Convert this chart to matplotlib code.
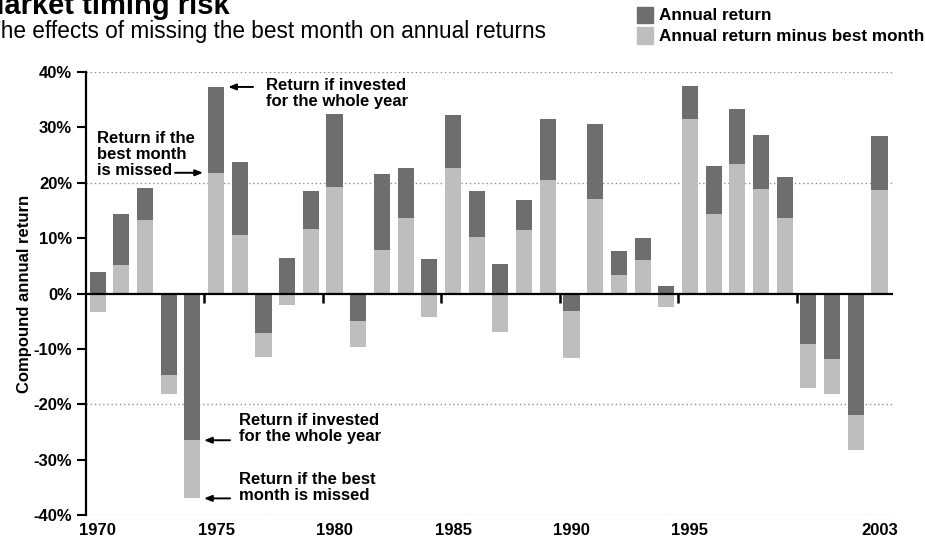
import numpy as np
import matplotlib.pyplot as plt
from matplotlib.patches import Rectangle

plt.rcParams['font.family'] = ['Liberation Sans', 'DejaVu Sans']

# Year by year compound annual returns (%)
years = np.arange(1970, 2004)
annual = [3.9, 14.3, 19.0, -14.7, -26.5, 37.3, 23.8, -7.2, 6.5, 18.6,
          32.4, -4.9, 21.5, 22.6, 6.2, 32.2, 18.6, 5.3, 16.8, 31.5,
          -3.1, 30.6, 7.6, 10.0, 1.3, 37.5, 23.1, 33.4, 28.6, 21.1,
          -9.1, -11.9, -22.0, 28.4]
minus_best = [-3.3, 5.2, 13.2, -18.1, -37.0, 21.8, 10.5, -11.4, -2.1, 11.6,
              19.3, -9.6, 7.8, 13.7, -4.3, 22.7, 10.2, -7.0, 11.5, 20.5,
              -11.7, 17.1, 3.4, 6.0, -2.5, 31.5, 14.4, 23.4, 18.9, 13.7,
              -17.1, -18.2, -28.3, 18.7]
label_years = [1970, 1975, 1980, 1985, 1990, 1995, 2003]
yticks = [-40, -30, -20, -10, 0, 10, 20, 30, 40]

dark = '#6e6e6e'
light = '#bebebe'
W, H = 925, 550

a = np.array(annual)
m = np.array(minus_best)

# light part runs from min(a,0) to m ; dark part from max(m,0) (if a>0) to a
light_bot = np.where(a < 0, a, 0)
light_h = m - light_bot
dark_bot = np.where(a > 0, np.maximum(m, 0), 0)
dark_h = a - dark_bot

fig = plt.figure(figsize=(W / 100, H / 100), dpi=100)
ax = fig.add_axes([86 / W, 1 - 515 / H, (893 - 86) / W, (515 - 72) / H])

ax.bar(years, light_h, bottom=light_bot, width=0.68, color=light, zorder=2)
ax.bar(years, dark_h, bottom=dark_bot, width=0.68, color=dark, zorder=2)

ax.set_xlim(1969.51, 2003.57)
ax.set_ylim(-40, 40)

for g in [-40, -20, 20, 40]:
    ax.axhline(g, color='#909090', lw=1, ls=(0, (1, 2)), zorder=1)
ax.axhline(0, color='black', lw=1.6, zorder=3)

for s in ['top', 'right', 'bottom']:
    ax.spines[s].set_visible(False)
ax.spines['left'].set_linewidth(1.6)

ax.set_yticks(yticks)
ax.set_yticklabels(['%d%%' % v for v in yticks], fontsize=12, fontweight='bold')
ax.tick_params(axis='y', length=6.5, width=1.5, pad=3.5)

ax.set_xticks(label_years)
ax.set_xticklabels([str(y) for y in label_years], fontsize=12, fontweight='bold')
ax.tick_params(axis='x', length=0, pad=6)
# small ticks hanging under the zero line
for t in [1974.5, 1979.5, 1984.5, 1989.5, 1994.5, 1999.5]:
    ax.plot([t, t], [0, -1.8], color='black', lw=1.8, zorder=3, solid_capstyle='butt')

ax.set_ylabel('Compound annual return', fontsize=12, fontweight='bold')
ax.yaxis.set_label_coords((32 - 86) / 807, 0.5)

# annotations
af = dict(fontsize=12, fontweight='bold', linespacing=1.08, va='baseline')
arr = dict(arrowstyle='-|>,head_length=0.45,head_width=0.18', color='black', lw=1.4,
           shrinkA=0, shrinkB=0)
ax.text(1977.11, 33.86, 'Return if invested\nfor the whole year', **af)
ax.annotate('', xy=(1975.51, annual[5]), xytext=(1976.56, annual[5]), arrowprops=arr)
ax.text(1969.98, 21.4, 'Return if the\nbest month\nis missed', **af)
ax.annotate('', xy=(1974.45, minus_best[5]), xytext=(1973.27, minus_best[5]), arrowprops=arr)

ax.text(1975.97, -26.64, 'Return if invested\nfor the whole year', **af)
ax.annotate('', xy=(1974.49, annual[4]), xytext=(1975.59, annual[4]), arrowprops=arr)
ax.text(1975.97, -37.29, 'Return if the best\nmonth is missed', **af)
ax.annotate('', xy=(1974.49, minus_best[4]), xytext=(1975.59, minus_best[4]), arrowprops=arr)

# title and subtitle (partly cut at the left edge, as in the source)
fig.text(-20 / W, 1 - 14 / H, 'Market timing risk', fontsize=21, fontweight='bold', va='baseline')
fig.text(-13 / W, 1 - 38 / H, 'The effects of missing the best month on annual returns',
         fontsize=16.3, va='baseline')

# legend
fig.patches.append(Rectangle((637 / W, 1 - 23 / H), 16 / W, 16 / H, color=dark,
                             transform=fig.transFigure))
fig.patches.append(Rectangle((637 / W, 1 - 44 / H), 16 / W, 17 / H, color=light,
                             transform=fig.transFigure))
fig.text(659 / W, 1 - 20 / H, 'Annual return', fontsize=12.3, fontweight='bold', va='baseline')
fig.text(659 / W, 1 - 41 / H, 'Annual return minus best month', fontsize=12.3,
         fontweight='bold', va='baseline')

fig.savefig('out.png', dpi=100)
